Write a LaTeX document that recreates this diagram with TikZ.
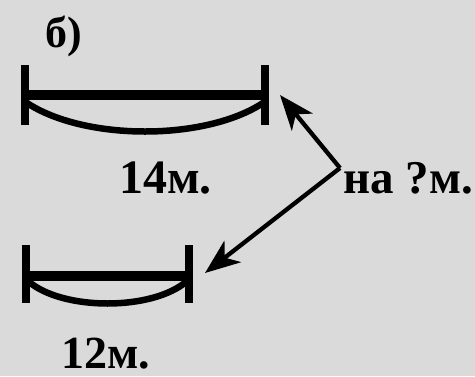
\documentclass[tikz,border=0pt]{standalone}
\usepackage{fontspec}
\newfontfamily\tnr{Liberation Serif}
\usetikzlibrary{arrows.meta}
\definecolor{bg}{RGB}{218,218,218}
\tikzset{
  lbl/.style={anchor=base west, inner sep=0pt, font=\tnr\bfseries\fontsize{48}{50}\selectfont},
  tick/.style={line width=7.5pt},
  bar/.style={line width=9.5pt},
  bow/.style={line width=6.5pt},
  pointer/.style={line width=4.3pt, -{Stealth[length=35pt,width=27pt,inset=10pt]}}
}
\begin{document}
\begin{tikzpicture}[x=1pt,y=-1pt]
\fill[bg] (0,0) rectangle (475,376);
\useasboundingbox (0,0) rectangle (475,376);
% top segment
\draw[tick] (25,65) -- (25,125);
\draw[tick] (265,65) -- (265,125);
\draw[bar] (25,95) -- (265,95);
\draw[bow] (27,103) .. controls (85,141) and (205,141) .. (263,103);
% bottom segment
\draw[tick] (26,245) -- (26,303);
\draw[tick] (189,245) -- (189,303);
\draw[bar] (26,276) -- (189,276);
\draw[bow] (28,281) .. controls (62,311) and (153,311) .. (187,281);
% labels
\node[lbl, font=\tnr\bfseries\fontsize{44}{46}\selectfont] (b) at (45,47) {б)};
\node[lbl] (t14) at (119,193) {14м.};
\node[lbl, font=\tnr\bfseries\fontsize{46}{48}\selectfont] (t12) at (61,368) {12м.};
\node[lbl, font=\tnr\bfseries\fontsize{47}{49}\selectfont] (tna) at (343,193) {на ?м.};
% arrows
\coordinate (v) at (340,168);
\coordinate (up) at (280,95);
\coordinate (dn) at (205,273);
\draw[pointer] (v) -- (up);
\draw[pointer] (v) -- (dn);
\end{tikzpicture}
\end{document}
